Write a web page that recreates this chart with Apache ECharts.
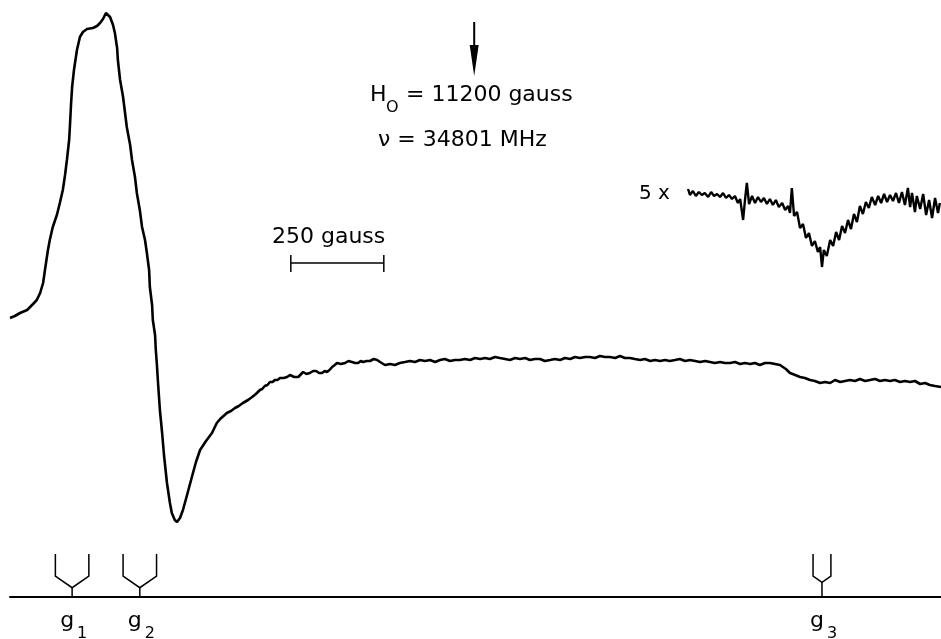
<!DOCTYPE html>
<html lang="en">
  <head>
    <meta charset="UTF-8">
    <title>EPR spectrum</title>
    <style>
      html, body { margin: 0; padding: 0; background: #fff; }
      #chart { width: 941px; height: 639px; }
    </style>
  </head>
  <body>
    <div id="chart"></div>
    <script src="https://cdn.jsdelivr.net/npm/echarts@6/dist/echarts.min.js"></script>
    <script type="text/javascript">
      // field in gauss, signal in arbitrary units (0 = flat part of the trace)
      var mainTrace = [
        [9952, 42], [9965, 44], [9979, 47], [9998, 50], [10014, 56], [10024, 60], [10033, 67], [10041, 77],
        [10046, 90], [10054, 110], [10059, 120], [10067, 133], [10078, 145], [10086, 157], [10094, 170],
        [10100, 185], [10105, 200], [10111, 220], [10113, 233], [10116, 255], [10119, 273], [10124, 290],
        [10132, 310], [10140, 323], [10148, 328], [10159, 331], [10175, 332], [10186, 334], [10194, 337],
        [10202, 341], [10210, 347], [10215, 347], [10221, 343], [10229, 335], [10234, 327], [10240, 312],
        [10242, 300], [10248, 280], [10256, 263], [10261, 248], [10266, 233], [10275, 215], [10280, 200],
        [10288, 183], [10293, 167], [10301, 150], [10307, 133], [10315, 120], [10320, 107], [10326, 90],
        [10328, 73], [10334, 55], [10336, 40], [10342, 25], [10344, 10], [10347, -5], [10350, -23],
        [10355, -50], [10361, -73], [10366, -95], [10374, -123], [10382, -143], [10387, -153], [10395, -160],
        [10401, -162], [10409, -158], [10417, -150], [10428, -135], [10441, -117], [10452, -102], [10463, -90],
        [10479, -81], [10495, -73], [10508, -63], [10517, -59], [10535, -53], [10546, -51], [10557, -48],
        [10567, -46], [10578, -43], [10592, -40], [10603, -37], [10613, -34], [10624, -30], [10630, -29],
        [10637, -26], [10644, -25], [10651, -22], [10658, -22], [10664, -20], [10671, -20], [10678, -18],
        [10688, -18], [10697, -17], [10705, -15], [10710, -16], [10716, -17], [10721, -18], [10727, -17],
        [10732, -18], [10740, -12], [10749, -14], [10758, -13], [10767, -11], [10775, -11], [10783, -13],
        [10791, -13], [10798, -11], [10804, -12], [10811, -10], [10818, -7], [10825, -5], [10831, -3],
        [10842, -4], [10853, -3], [10862, -1], [10871, -2], [10880, -3], [10888, -3], [10895, -1],
        [10901, -2], [10911, -1], [10920, -1], [10930, 1], [10939, 0],
        [10947, -2], [10960, -5], [10974, -4], [10987, -5], [11000, -3], [11014, -2], [11027, -1],
        [11041, -2], [11054, 0], [11068, -1], [11081, 0], [11095, -2], [11108, 0], [11121, 1], [11135, -1],
        [11148, 0], [11162, 0], [11175, 1], [11189, 0], [11202, 2], [11216, 1], [11229, 2], [11242, 1],
        [11256, 3], [11269, 2], [11283, 1], [11296, 0], [11310, 2], [11323, 1], [11337, 2], [11350, 0],
        [11363, 1], [11377, 1], [11390, -1], [11404, 0], [11417, 1], [11431, 0], [11444, 2], [11458, 1],
        [11471, 3], [11484, 2], [11498, 3], [11511, 3], [11525, 2], [11538, 4], [11552, 3], [11565, 3],
        [11579, 2], [11592, 4], [11605, 2], [11619, 2], [11632, 1], [11646, 0], [11659, 1], [11673, -1],
        [11686, 0], [11700, -1], [11713, 0], [11726, -1], [11740, 0], [11753, 1], [11767, -1], [11780, 0],
        [11794, -1], [11807, -2], [11821, -1], [11834, -2], [11847, -3], [11861, -2], [11874, -3],
        [11888, -3], [11901, -2], [11915, -4], [11928, -3], [11942, -4], [11955, -3], [11968, -5],
        [11982, -3], [11995, -3], [12009, -4], [12022, -5], [12030, -7], [12038, -9], [12049, -13],
        [12063, -15], [12076, -17], [12089, -18], [12103, -20], [12116, -21], [12130, -23], [12143, -22],
        [12157, -23], [12170, -20], [12184, -22], [12197, -21], [12210, -20], [12224, -21], [12237, -19],
        [12251, -21], [12264, -20], [12278, -19], [12291, -21], [12304, -20], [12318, -21], [12331, -20],
        [12345, -22], [12358, -21], [12372, -22], [12385, -21], [12399, -24], [12412, -23], [12425, -25],
        [12439, -26], [12455, -27]
      ];

      // the same region recorded at 5x gain, drawn above the main trace
      var gain5Trace = [
        [11775, 171], [11780, 165], [11788, 169], [11796, 164], [11804, 168], [11812, 165], [11820, 167],
        [11829, 163], [11837, 168], [11845, 164], [11853, 166], [11861, 163], [11869, 167], [11877, 162],
        [11885, 165], [11893, 161], [11901, 164], [11909, 157], [11915, 161], [11923, 140], [11928, 160],
        [11933, 177], [11939, 156], [11947, 164], [11955, 157], [11963, 163], [11971, 158], [11979, 162],
        [11987, 156], [11995, 161], [12003, 155], [12011, 160], [12019, 153], [12028, 157], [12036, 150],
        [12044, 154], [12049, 147], [12054, 172], [12060, 144], [12068, 148], [12076, 132], [12084, 136],
        [12092, 122], [12100, 127], [12108, 114], [12116, 119], [12124, 108], [12130, 113], [12135, 93],
        [12140, 110], [12148, 104], [12157, 120], [12165, 114], [12173, 128], [12181, 120], [12189, 134],
        [12197, 127], [12205, 140], [12213, 131], [12221, 146], [12229, 138], [12237, 154], [12245, 146],
        [12253, 158], [12261, 152], [12269, 163], [12278, 155], [12286, 164], [12294, 157], [12302, 166],
        [12310, 158], [12318, 165], [12326, 159], [12334, 167], [12342, 157], [12350, 168], [12358, 155],
        [12366, 172], [12372, 153], [12377, 167], [12385, 148], [12390, 164], [12399, 151], [12407, 166],
        [12415, 145], [12423, 160], [12431, 142], [12439, 162], [12447, 147], [12452, 157]
      ];

      // g-value positions (gauss) and half spread of each marker (gauss)
      var gNames = ['1', '2', '3'];
      var gField = [10119, 10301, 12135];
      var gSpread = [45, 45, 24];

      var centerField = 11200;          // H0
      var scaleBar = [10707, 10957, 97]; // 250 gauss bar: from, to, level
      var arrowLevels = [338, 315, 284]; // top of shaft, head base, tip

      var fieldMin = 9952, fieldMax = 12455;
      var sigMin = -237, sigMax = 360;

      var myChart = echarts.init(document.getElementById('chart'));
      var font = '"DejaVu Sans", sans-serif';

      option = {
        backgroundColor: '#fff',
        animation: false,
        grid: { left: 10, right: 0, top: 0, bottom: 42 },
        xAxis: {
          type: 'value',
          min: fieldMin,
          max: fieldMax,
          axisLine: { show: true, onZero: false, lineStyle: { color: '#000', width: 2 } },
          axisTick: { show: false },
          axisLabel: { show: false },
          splitLine: { show: false }
        },
        yAxis: {
          type: 'value',
          min: sigMin,
          max: sigMax,
          show: false
        },
        graphic: [
          { type: 'text', left: 370, top: 84, style: { text: 'H', font: '22px ' + font, fill: '#000' } },
          { type: 'text', left: 386, top: 100, style: { text: 'O', font: '16px ' + font, fill: '#000' } },
          { type: 'text', left: 406, top: 84, style: { text: '= 11200 gauss', font: '22px ' + font, fill: '#000' } },
          { type: 'text', left: 378, top: 129, style: { text: 'ν = 34801 MHz', font: '22px ' + font, fill: '#000' } },
          { type: 'text', left: 272, top: 226, style: { text: '250 gauss', font: '22px ' + font, fill: '#000' } },
          { type: 'text', left: 639, top: 184, style: { text: '5 x', font: '20px ' + font, fill: '#000' } }
        ],
        series: [
          {
            name: 'main',
            type: 'line',
            data: mainTrace,
            symbol: 'none',
            lineStyle: { color: '#000', width: 2.6 }
          },
          {
            name: '5x',
            type: 'line',
            data: gain5Trace,
            symbol: 'none',
            lineStyle: { color: '#000', width: 2.4 }
          },
          {
            // g-value markers with labels under the field axis
            type: 'custom',
            data: gField.map(function(g, i) { return [g, gSpread[i], i]; }),
            encode: { x: 0 },
            renderItem: function(params, api) {
              var p = api.coord([api.value(0), sigMin]);
              var w = api.size([api.value(1), 0])[0];
              var x = p[0], axisY = p[1] - 1;
              var top = axisY - 42, bend = axisY - 20, vee = bend + w * 0.7;
              var name = gNames[api.value(2)];
              var ls = { stroke: '#000', lineWidth: 1.5, fill: null };
              return {
                type: 'group',
                children: [
                  { type: 'polyline', shape: { points: [[x - w, top], [x - w, bend], [x, vee], [x + w, bend], [x + w, top]] }, style: ls },
                  { type: 'line', shape: { x1: x, y1: vee, x2: x, y2: axisY }, style: ls },
                  { type: 'text', style: { text: 'g', x: x - 5, y: axisY + 25, align: 'center', verticalAlign: 'middle', font: '22px ' + font, fill: '#000' } },
                  { type: 'text', style: { text: name, x: x + 10, y: axisY + 38, align: 'center', verticalAlign: 'middle', font: '16px ' + font, fill: '#000' } }
                ]
              };
            }
          },
          {
            // 250 gauss scale bar
            type: 'custom',
            data: [scaleBar],
            encode: { x: [0, 1], y: 2 },
            renderItem: function(params, api) {
              var a = api.coord([api.value(0), api.value(2)]);
              var b = api.coord([api.value(1), api.value(2)]);
              var ls = { stroke: '#000', lineWidth: 1.5 };
              return {
                type: 'group',
                children: [
                  { type: 'line', shape: { x1: a[0], y1: a[1], x2: b[0], y2: b[1] }, style: ls },
                  { type: 'line', shape: { x1: a[0], y1: a[1] - 8, x2: a[0], y2: a[1] + 9 }, style: ls },
                  { type: 'line', shape: { x1: b[0], y1: b[1] - 8, x2: b[0], y2: b[1] + 9 }, style: ls }
                ]
              };
            }
          },
          {
            // arrow marking H0
            type: 'custom',
            data: [[centerField, arrowLevels[0], arrowLevels[1], arrowLevels[2]]],
            encode: { x: 0, y: [1, 3] },
            renderItem: function(params, api) {
              var t = api.coord([api.value(0), api.value(1)]);
              var h = api.coord([api.value(0), api.value(2)]);
              var tip = api.coord([api.value(0), api.value(3)]);
              return {
                type: 'group',
                children: [
                  { type: 'line', shape: { x1: t[0], y1: t[1], x2: h[0], y2: h[1] + 2 }, style: { stroke: '#000', lineWidth: 2 } },
                  { type: 'polygon', shape: { points: [[h[0] - 4.5, h[1]], [h[0] + 4.5, h[1]], [tip[0], tip[1]]] }, style: { fill: '#000' } }
                ]
              };
            }
          }
        ]
      };

      myChart.setOption(option);
    </script>
  </body>
</html>
